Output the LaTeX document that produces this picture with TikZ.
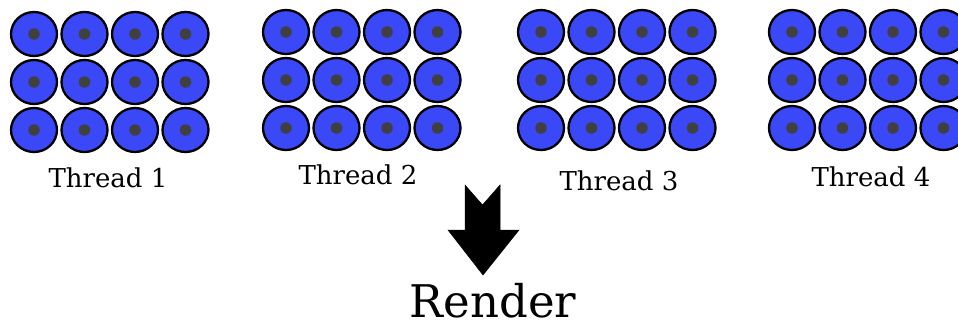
\documentclass[tikz,border=0pt]{standalone}
\usepackage{fontspec}
\setmainfont{DejaVu Serif}
\usetikzlibrary{shapes.geometric}
\definecolor{cellblue}{RGB}{58,72,248}
\definecolor{dotgray}{RGB}{64,64,64}
\tikzset{
  cell/.style={ellipse, draw=black, line width=2.3pt, fill=cellblue, minimum width=46pt, minimum height=44pt, inner sep=0pt},
  dot/.style={circle, fill=dotgray, minimum size=11.5pt, inner sep=0pt},
  lbl/.style={font=\fontsize{26}{30}\selectfont, inner sep=0pt, anchor=base},
  biglbl/.style={font=\fontsize{45}{50}\selectfont, inner sep=0pt, text depth=0pt, anchor=base},
  blockarrow/.style={fill=black, draw=black, line width=0.5pt, line join=miter}
}
\begin{document}
\begin{tikzpicture}[x=1pt,y=-1pt]
\useasboundingbox (0,0) rectangle (958,327);
\foreach \g/\gx/\gy in {1/34/34, 2/286/32, 3/541/32, 4/792/32}{
  \foreach \r in {1,2,3}{
    \foreach \c in {1,2,3,4}{
      \node[cell] (g\g r\r c\c) at ({\gx+(\c-1)*50.5},{\gy+(\r-1)*48}) {};
      \node[dot] (d\g r\r c\c) at (g\g r\r c\c.center) {};
    }
  }
}
\node[lbl] (t1) at (108,187) {Thread 1};
\node[lbl] (t2) at (358,184) {Thread 2};
\node[lbl] (t3) at (619,190) {Thread 3};
\node[lbl] (t4) at (871,186) {Thread 4};
\node[biglbl] (render) at (493,317) {Render};
\draw[blockarrow] (465,185) -- (482.5,205) -- (500,185) -- (500,230) -- (519,230)
  -- (483,275) -- (448,230) -- (465,230) -- cycle;
\end{tikzpicture}
\end{document}
